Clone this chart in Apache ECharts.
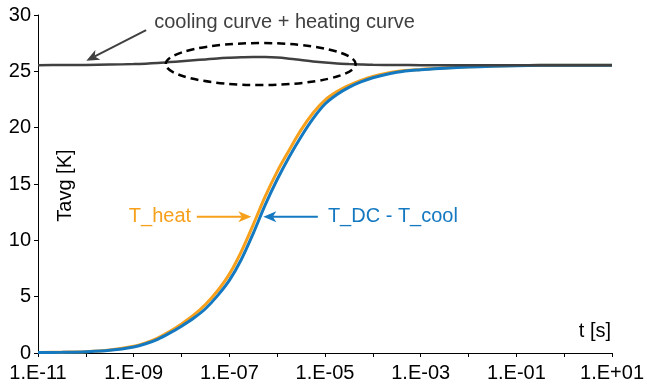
<!DOCTYPE html>
<html>
<head>
<meta charset="utf-8">
<script src="https://cdn.jsdelivr.net/npm/echarts@6/dist/echarts.min.js"></script>
<style>
  html, body { margin: 0; padding: 0; background: #fff; }
  #chart { width: 647px; height: 385px; }
</style>
</head>
<body>
<div id="chart"></div>
<script>
// Time axis in decades: log10(t / s)
const logTime = [-11, -10.5, -10, -9.5, -9, -8.75, -8.5, -8.25, -8, -7.75, -7.5, -7.25, -7,
  -6.75, -6.5, -6.25, -6, -5.75, -5.5, -5.25, -5, -4.75, -4.5, -4.25, -4, -3.5, -3, -2.5,
  -2, -1.5, -1, -0.5, 0, 0.5, 1];

// Average temperature rise [K]
const tHeat = [0.04, 0.07, 0.12, 0.27, 0.6, 0.9, 1.33, 1.9, 2.58, 3.35, 4.3, 5.5, 7.0,
  9.0, 11.4, 13.9, 16.1, 18.0, 19.8, 21.3, 22.45, 23.2, 23.75, 24.2, 24.55, 24.98, 25.17, 25.3,
  25.4, 25.47, 25.51, 25.53, 25.55, 25.55, 25.55];

const tDcMinusCool = [0.035, 0.06, 0.11, 0.24, 0.54, 0.82, 1.22, 1.76, 2.38, 3.08, 3.93, 5.07, 6.44,
  8.3, 10.62, 13.15, 15.4, 17.4, 19.2, 20.8, 22.1, 22.95, 23.58, 24.06, 24.43, 24.91, 25.14, 25.28,
  25.39, 25.46, 25.5, 25.53, 25.55, 25.55, 25.55];

const tCoolPlusHeat = [25.55, 25.56, 25.57, 25.6, 25.64, 25.68, 25.74, 25.82, 25.9, 25.98, 26.06, 26.14, 26.2,
  26.25, 26.28, 26.27, 26.22, 26.12, 26.0, 25.88, 25.78, 25.7, 25.65, 25.61, 25.58, 25.56, 25.55, 25.55,
  25.55, 25.55, 25.55, 25.55, 25.55, 25.55, 25.55];

// Labels for every second decade tick
const xTickLabels = {
  '-11': '1.E-11', '-9': '1.E-09', '-7': '1.E-07', '-5': '1.E-05',
  '-3': '1.E-03', '-1': '1.E-01', '1': '1.E+01'
};
const yTicks = [0, 5, 10, 15, 20, 25, 30];

const FONT = '"Liberation Sans", Arial, sans-serif';
const ORANGE = '#F6A01C';
const BLUE = '#1479C0';
const GRAY = '#404040';

const pair = (ys) => logTime.map((x, i) => [x, ys[i]]);

const chart = echarts.init(document.getElementById('chart'), null, { renderer: 'canvas' });

const option = {
  animation: false,
  backgroundColor: '#ffffff',
  grid: { left: 38, right: 31, top: 15, bottom: 32, containLabel: false },
  xAxis: {
    type: 'value',
    min: -11, max: 1, interval: 1,
    splitLine: { show: false },
    axisLine: { show: true, onZero: false, lineStyle: { color: '#000', width: 1 } },
    axisTick: { show: true, inside: false, length: 4, lineStyle: { color: '#000' } },
    axisLabel: {
      color: '#000', fontSize: 20, fontFamily: FONT, margin: 10,
      showMinLabel: true, showMaxLabel: true, hideOverlap: false,
      formatter: (v) => xTickLabels[String(Math.round(v))] || ''
    }
  },
  yAxis: {
    type: 'value',
    min: yTicks[0], max: yTicks[yTicks.length - 1], interval: 5,
    splitLine: { show: false },
    axisLine: { show: true, onZero: false, lineStyle: { color: '#000', width: 1 } },
    axisTick: { show: true, inside: false, length: 4, lineStyle: { color: '#000' } },
    axisLabel: { color: '#000', fontSize: 20, fontFamily: FONT, margin: 7 }
  },
  series: [
    {
      name: 'T_heat', type: 'line', data: pair(tHeat),
      showSymbol: false, smooth: 0.35,
      lineStyle: { color: ORANGE, width: 3 }, z: 2
    },
    {
      name: 'T_DC - T_cool', type: 'line', data: pair(tDcMinusCool),
      showSymbol: false, smooth: 0.35,
      lineStyle: { color: BLUE, width: 3 }, z: 3
    },
    {
      name: 'cooling curve + heating curve', type: 'line', data: pair(tCoolPlusHeat),
      showSymbol: false, smooth: 0.35,
      lineStyle: { color: GRAY, width: 2.5 }, z: 4
    }
  ]
};

chart.setOption(option);

// Annotation anchors in data space (decade, kelvin)
const px = (e, v) => chart.convertToPixel({ gridIndex: 0 }, [e, v]);

// Filled "stealth" arrowhead pointing from tail to tip
function arrow(tail, tip, color, width) {
  const dx = tip[0] - tail[0], dy = tip[1] - tail[1];
  const len = Math.hypot(dx, dy);
  const ux = dx / len, uy = dy / len;
  const nx = -uy, ny = ux;
  const headLen = 13, half = 5.5, notch = 3.5;
  const bx = tip[0] - ux * headLen, by = tip[1] - uy * headLen;
  const nxp = tip[0] - ux * (headLen - notch), nyp = tip[1] - uy * (headLen - notch);
  return [
    {
      type: 'line', silent: true, z: 10,
      shape: { x1: tail[0], y1: tail[1], x2: nxp, y2: nyp },
      style: { stroke: color, lineWidth: width }
    },
    {
      type: 'polygon', silent: true, z: 10,
      shape: { points: [tip, [bx + nx * half, by + ny * half], [nxp, nyp], [bx - nx * half, by - ny * half]] },
      style: { fill: color }
    }
  ];
}

const ellL = px(-8.33, 25.64), ellR = px(-4.36, 25.64);
const ellT = px(-6.35, 27.51), ellB = px(-6.35, 23.78);

const grayText = px(-8.57, 29.37);
const heatText = px(-7.8, 12.09);
const dcText = px(-4.94, 12.09);
const yName = px(-10.42, 14.86);
const xName = px(0.98, 1.95);

const graphics = [
  {
    type: 'text', silent: true, z: 10,
    x: grayText[0], y: grayText[1],
    style: { text: 'cooling curve + heating curve', fill: GRAY, font: '20px ' + FONT,
      textAlign: 'left', textVerticalAlign: 'middle' }
  },
  ...arrow(px(-8.74, 28.66), px(-9.99, 25.94), GRAY, 2),
  {
    type: 'ellipse', silent: true, z: 10,
    shape: {
      cx: (ellL[0] + ellR[0]) / 2, cy: (ellT[1] + ellB[1]) / 2,
      rx: (ellR[0] - ellL[0]) / 2, ry: (ellB[1] - ellT[1]) / 2
    },
    style: { fill: null, stroke: '#000', lineWidth: 2.5, lineDash: [8, 5] }
  },
  {
    type: 'text', silent: true, z: 10,
    x: heatText[0], y: heatText[1],
    style: { text: 'T_heat', fill: ORANGE, font: '20px ' + FONT,
      textAlign: 'right', textVerticalAlign: 'middle' }
  },
  ...arrow(px(-7.68, 12.09), px(-6.54, 12.09), ORANGE, 2),
  ...arrow(px(-5.15, 12.09), px(-6.29, 12.09), BLUE, 2),
  {
    type: 'text', silent: true, z: 10,
    x: dcText[0], y: dcText[1],
    style: { text: 'T_DC - T_cool', fill: BLUE, font: '20px ' + FONT,
      textAlign: 'left', textVerticalAlign: 'middle' }
  },
  {
    type: 'text', silent: true, z: 10,
    x: yName[0], y: yName[1], rotation: Math.PI / 2,
    style: { text: 'Tavg [K]', fill: '#000', font: '20px ' + FONT,
      textAlign: 'center', textVerticalAlign: 'middle' }
  },
  {
    type: 'text', silent: true, z: 10,
    x: xName[0], y: xName[1],
    style: { text: 't [s]', fill: '#000', font: '20px ' + FONT,
      textAlign: 'right', textVerticalAlign: 'middle' }
  }
];

chart.setOption({ graphic: graphics });
</script>
</body>
</html>
